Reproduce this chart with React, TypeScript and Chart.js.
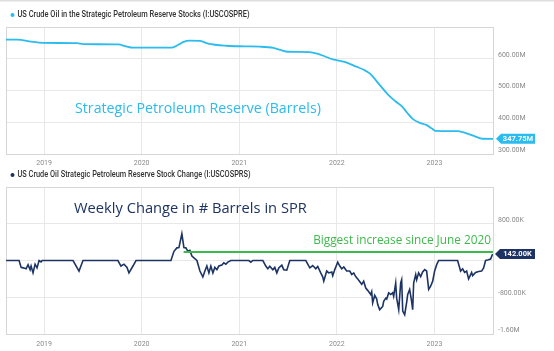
import React, { useEffect, useRef } from 'react';
import { Chart, registerables } from 'chart.js';

Chart.register(...registerables);

// ---------- data ----------
const yearTicks = [2019, 2020, 2021, 2022, 2023];
const xMin = 2018.61;
const xMax = 2023.6;

// SPR stocks, millions of barrels (time in decimal years)
const sprTimes = [
  2018.61, 2018.73, 2018.85, 2018.99, 2019.34, 2019.4, 2019.76, 2019.84, 2019.91, 2020.31,
  2020.38, 2020.43, 2020.49, 2020.6, 2020.68, 2020.87, 2021.05, 2021.21, 2021.35, 2021.42,
  2021.5, 2021.72, 2021.8, 2021.88, 2021.96, 2022.08, 2022.2, 2022.27, 2022.34, 2022.44,
  2022.54, 2022.6, 2022.67, 2022.72, 2022.78, 2022.85, 2022.92, 2022.97, 2023.01, 2023.24,
  2023.33, 2023.42, 2023.49, 2023.6,
];
const sprValues = [
  660, 660, 655, 650, 649, 646, 645, 639, 635, 635,
  645, 653, 657, 656, 648, 641, 639, 638, 634, 628,
  622, 621, 616, 607, 598, 590, 575, 566, 553, 517,
  482, 466, 449, 430, 410, 398, 391, 381, 373, 372,
  365, 355, 348, 347.75,
];

// Weekly SPR stock change, thousands of barrels
const changeTimes = [
  2018.611, 2018.744, 2018.765, 2018.785, 2018.816, 2018.836, 2018.857, 2018.867, 2018.887, 2018.908,
  2018.928, 2018.949, 2018.969, 2018.98, 2019.297, 2019.358, 2019.399, 2019.757, 2019.788, 2019.819,
  2019.85, 2019.87, 2019.911, 2019.942, 2020.3, 2020.331, 2020.361, 2020.382, 2020.412, 2020.433,
  2020.453, 2020.474, 2020.494, 2020.515, 2020.566, 2020.597, 2020.627, 2020.648, 2020.668, 2020.689,
  2020.709, 2020.73, 2020.75, 2020.771, 2020.791, 2020.822, 2020.842, 2020.863, 2020.883, 2020.914,
  2021.098, 2021.119, 2021.139, 2021.242, 2021.272, 2021.293, 2021.313, 2021.344, 2021.364, 2021.385,
  2021.405, 2021.436, 2021.456, 2021.487, 2021.518, 2021.682, 2021.723, 2021.753, 2021.784, 2021.804,
  2021.835, 2021.855, 2021.866, 2021.896, 2021.917, 2021.948, 2021.958, 2021.978, 2022.009, 2022.03,
  2022.05, 2022.071, 2022.101, 2022.132, 2022.153, 2022.173, 2022.193, 2022.214, 2022.224, 2022.245,
  2022.255, 2022.275, 2022.296, 2022.316, 2022.347, 2022.357, 2022.367, 2022.388, 2022.408, 2022.419,
  2022.439, 2022.47, 2022.48, 2022.501, 2022.511, 2022.531, 2022.552, 2022.572, 2022.582, 2022.603,
  2022.613, 2022.634, 2022.654, 2022.664, 2022.675, 2022.695, 2022.716, 2022.726, 2022.746, 2022.767,
  2022.777, 2022.787, 2022.808, 2022.818, 2022.838, 2022.859, 2022.879, 2022.9, 2022.92, 2022.941,
  2022.961, 2022.982, 2023.002, 2023.023, 2023.043, 2023.237, 2023.268, 2023.289, 2023.309, 2023.33,
  2023.35, 2023.381, 2023.391, 2023.422, 2023.452, 2023.483, 2023.504, 2023.524, 2023.545, 2023.575,
  2023.596,
];
const changeValues = [
  0, 0, -150, -160, -180, -90, -200, -120, -270, -80,
  -160, 0, -30, 0, 0, -230, 0, 0, -120, -80,
  -150, -270, -120, 0, 0, 200, 275, 280, 580, 280,
  275, 200, 220, 95, 0, -230, -360, -230, -120, -270,
  -120, -270, -150, -200, -120, -100, -50, -80, -35, 0,
  0, -35, 0, 0, -120, -180, -125, -200, -150, -270,
  -160, -100, -200, -210, 0, 0, -160, -110, -180, -130,
  -270, -355, -450, -230, -270, -250, -330, -200, -35, -120,
  -180, -140, -230, -230, -305, -270, -350, -400, -430, -490,
  -520, -450, -600, -650, -740, -680, -920, -760, -835, -960,
  -1070, -1000, -890, -820, -840, -705, -740, -700, -780, -490,
  -820, -1070, -490, -420, -1100, -1180, -900, -740, -630, -900,
  -1070, -490, -305, -420, -270, -350, -250, -200, -230, -630,
  -560, -450, -230, -90, 0, 0, -230, -180, -260, -230,
  -400, -260, -330, -260, -240, -230, -160, 0, 10, 30,
  142,
];

const sprTicks = [300, 400, 500, 600, 700];
const changeTicks = [-1600, -800, 0, 800, 1600];
const highlightLevel = 185;
const highlightStart = 2020.43;

const sprLegend = 'US Crude Oil in the Strategic Petroleum Reserve Stocks (I:USCOSPRE)';
const changeLegend = 'US Crude Oil Strategic Petroleum Reserve Stock Change (I:USCOSPRS)';
const sprNote = 'Strategic Petroleum Reserve (Barrels)';
const changeNote = 'Weekly Change in # Barrels in SPR';
const highlightNote = 'Biggest increase since June 2020';

// ---------- styles ----------
const CYAN = '#2bbbee';
const NAVY = '#1c3363';
const GREEN = '#3dba4c';
const GRID = '#e8e8e8';
const FRAME = '#d6d6d6';
const TICK = '#8a8a8a';
const FONT = 'Roboto, "Noto Sans", sans-serif';
const NOTE_FONT = '"Open Sans", Lato, sans-serif';

function fitFont(ctx: CanvasRenderingContext2D, text: string, family: string, weight: string, targetW: number, base: number) {
  ctx.font = `${weight} ${base}px ${family}`;
  const w = ctx.measureText(text).width;
  const size = (base * targetW) / w;
  ctx.font = `${weight} ${size}px ${family}`;
}

function drawLegend(ctx: CanvasRenderingContext2D, text: string, color: string, y: number, width: number) {
  ctx.save();
  ctx.fillStyle = color;
  ctx.beginPath();
  ctx.arc(12.5, y, 2, 0, Math.PI * 2);
  ctx.fill();
  ctx.fillStyle = '#333333';
  ctx.font = `500 9.2px ${FONT}`;
  ctx.textBaseline = 'middle';
  ctx.textAlign = 'left';
  const w = ctx.measureText(text).width;
  ctx.translate(17.5, y);
  ctx.scale(width / w, 1);
  ctx.fillText(text, 0, 0);
  ctx.restore();
}

function drawBadge(ctx: CanvasRenderingContext2D, x: number, y: number, text: string, color: string) {
  ctx.save();
  ctx.fillStyle = color;
  ctx.beginPath();
  ctx.moveTo(x, y);
  ctx.lineTo(x + 5, y - 5);
  ctx.lineTo(535, y - 5);
  ctx.lineTo(535, y + 5);
  ctx.lineTo(x + 5, y + 5);
  ctx.closePath();
  ctx.fill();
  ctx.fillStyle = '#ffffff';
  ctx.font = `bold 7.5px ${FONT}`;
  ctx.textAlign = 'center';
  ctx.textBaseline = 'middle';
  ctx.fillText(text, (x + 5 + 535) / 2, y + 0.5);
  ctx.restore();
}

function frameRect(chart: any) {
  const { ctx, chartArea: a } = chart;
  ctx.save();
  ctx.strokeStyle = FRAME;
  ctx.lineWidth = 1;
  ctx.strokeRect(Math.round(a.left) + 0.5, Math.round(a.top) + 0.5, Math.round(a.right - a.left), Math.round(a.bottom - a.top));
  ctx.restore();
}

function xScale(height: number, padding: number) {
  return {
    type: 'linear' as const,
    min: xMin,
    max: xMax,
    afterBuildTicks: (s: any) => {
      s.ticks = yearTicks.map((v) => ({ value: v }));
    },
    grid: { color: GRID, drawTicks: false },
    border: { display: false },
    ticks: { color: TICK, font: { family: FONT, size: 7 }, padding, maxRotation: 0, callback: (v: any) => String(v) },
    afterFit: (s: any) => {
      s.height = height;
    },
  };
}

function yScale(min: number, max: number, ticks: number[], fmt: (v: number) => string) {
  return {
    type: 'linear' as const,
    position: 'right' as const,
    min,
    max,
    afterBuildTicks: (s: any) => {
      s.ticks = ticks.map((v) => ({ value: v }));
    },
    grid: { color: GRID, drawTicks: false },
    border: { display: false },
    ticks: { color: TICK, font: { family: FONT, size: 7 }, padding: 5, labelOffset: -4, callback: (v: any) => fmt(Number(v)) },
    afterFit: (s: any) => {
      s.width = 61;
    },
  };
}

const fmtSpr = (v: number) => (v === 700 ? '' : v.toFixed(2) + 'M');
const fmtChange = (v: number) => {
  if (v === 0 || v === 1600) return '';
  return Math.abs(v) >= 1000 ? (v / 1000).toFixed(2) + 'M' : v.toFixed(2) + 'K';
};

export default function App() {
  const topRef = useRef<HTMLCanvasElement>(null);
  const botRef = useRef<HTMLCanvasElement>(null);

  useEffect(() => {
    const topPlugin = {
      id: 'topDecor',
      beforeDatasetsDraw(chart: any) {
        frameRect(chart);
      },
      afterDraw(chart: any) {
        const { ctx, chartArea: a, scales } = chart;
        ctx.save();
        ctx.fillStyle = '#dedede';
        ctx.fillRect(0, 0, 554, 1.5);
        ctx.restore();
        drawLegend(ctx, sprLegend, CYAN, 15, 232);
        ctx.save();
        ctx.fillStyle = CYAN;
        fitFont(ctx, sprNote, NOTE_FONT, '400', 246, 15);
        ctx.textBaseline = 'middle';
        ctx.textAlign = 'left';
        ctx.fillText(sprNote, 75, 109);
        ctx.restore();
        const last = sprValues[sprValues.length - 1];
        drawBadge(ctx, a.right + 3, scales.y.getPixelForValue(last), last.toFixed(2) + 'M', CYAN);
      },
    };

    const botPlugin = {
      id: 'botDecor',
      beforeDatasetsDraw(chart: any) {
        frameRect(chart);
      },
      afterDatasetsDraw(chart: any) {
        const { ctx, chartArea: a, scales } = chart;
        const y = scales.y.getPixelForValue(highlightLevel);
        ctx.save();
        ctx.strokeStyle = GREEN;
        ctx.lineWidth = 2.2;
        ctx.beginPath();
        ctx.moveTo(scales.x.getPixelForValue(highlightStart), y);
        ctx.lineTo(a.right, y);
        ctx.stroke();
        ctx.fillStyle = GREEN;
        fitFont(ctx, highlightNote, NOTE_FONT, '400', 178, 11);
        ctx.textAlign = 'right';
        ctx.textBaseline = 'middle';
        ctx.fillText(highlightNote, a.right - 2, y - 11.5);
        ctx.restore();
      },
      afterDraw(chart: any) {
        const { ctx, chartArea: a, scales } = chart;
        drawLegend(ctx, changeLegend, NAVY, 5, 233);
        ctx.save();
        ctx.fillStyle = NAVY;
        fitFont(ctx, changeNote, NOTE_FONT, '400', 233, 16);
        ctx.textBaseline = 'middle';
        ctx.textAlign = 'left';
        ctx.fillText(changeNote, 74, a.top + 22);
        ctx.restore();
        const last = changeValues[changeValues.length - 1];
        drawBadge(ctx, a.right + 2, scales.y.getPixelForValue(last), last.toFixed(2) + 'K', NAVY);
      },
    };

    const top = new Chart(topRef.current!, {
      type: 'line',
      data: {
        datasets: [
          {
            data: sprTimes.map((t, i) => ({ x: t, y: sprValues[i] })),
            borderColor: CYAN,
            borderWidth: 1.8,
            pointRadius: 0,
            cubicInterpolationMode: 'monotone',
            fill: false,
          },
        ],
      },
      options: {
        responsive: false,
        animation: false,
        layout: { padding: { left: 6, top: 27, right: 0, bottom: 0 } },
        plugins: { legend: { display: false }, tooltip: { enabled: false } },
        scales: { x: xScale(16, 5), y: yScale(300, 700, sprTicks, fmtSpr) } as any,
      },
      plugins: [topPlugin],
    });

    const bot = new Chart(botRef.current!, {
      type: 'line',
      data: {
        datasets: [
          {
            data: changeTimes.map((t, i) => ({ x: t, y: changeValues[i] })),
            borderColor: NAVY,
            borderWidth: 1.6,
            pointRadius: 0,
            tension: 0,
            fill: false,
          },
        ],
      },
      options: {
        responsive: false,
        animation: false,
        layout: { padding: { left: 6, top: 17, right: 0, bottom: 0 } },
        plugins: { legend: { display: false }, tooltip: { enabled: false } },
        scales: { x: xScale(17, 6), y: yScale(-1600, 1600, changeTicks, fmtChange) } as any,
      },
      plugins: [botPlugin],
    });

    return () => {
      top.destroy();
      bot.destroy();
    };
  }, []);

  return (
    <div style={{ position: 'fixed', left: 0, top: 0, width: 554, height: 351, background: '#ffffff' }}>
      <canvas ref={topRef} width={554} height={170} style={{ position: 'absolute', left: 0, top: 0, display: 'block' }} />
      <canvas ref={botRef} width={554} height={181} style={{ position: 'absolute', left: 0, top: 170, display: 'block' }} />
    </div>
  );
}
